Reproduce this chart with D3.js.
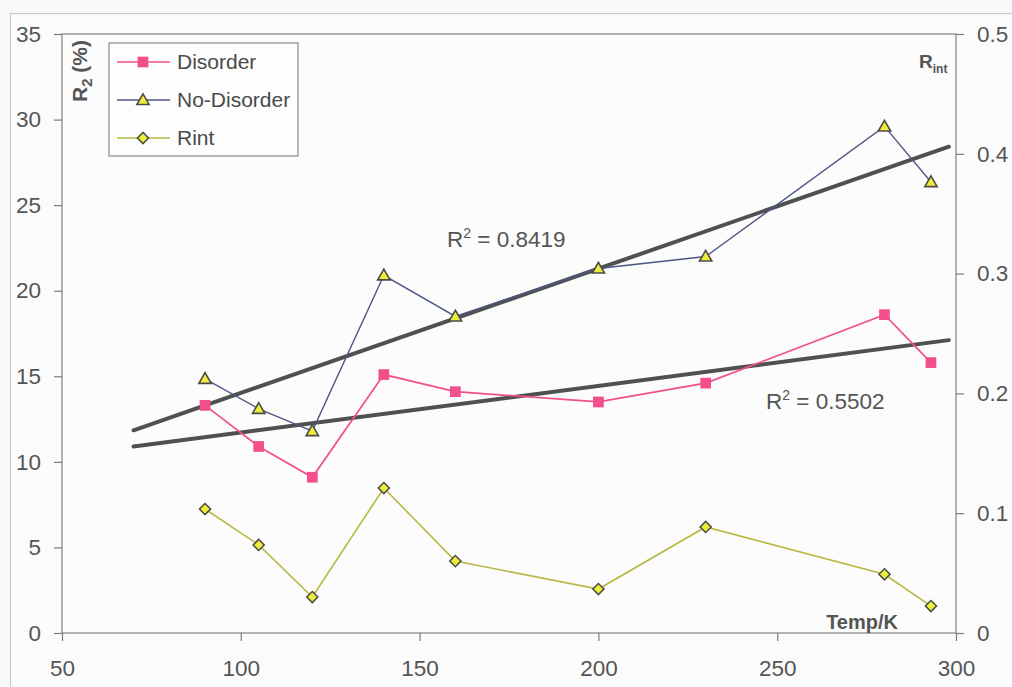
<!DOCTYPE html>
<html>
<head>
<meta charset="utf-8">
<script src="https://cdn.jsdelivr.net/npm/d3@7"></script>
<style>
  html, body { margin: 0; padding: 0; background: #f8f9f8; }
  svg { display: block; font-family: "Liberation Sans", Arial, sans-serif; }
</style>
</head>
<body>
<svg id="chart" width="1012" height="687"></svg>
<script>
// Temperature (K) of each refinement
const temps = [90, 105, 120, 140, 160, 200, 230, 280, 293];
// R2 (%) with the disorder model
const disorder = [13.3, 10.9, 9.1, 15.1, 14.1, 13.5, 14.6, 18.6, 15.8];
// R2 (%) without the disorder model
const noDisorder = [14.85, 13.1, 11.8, 20.9, 18.5, 21.3, 22.0, 29.6, 26.35];
// Rint (right axis)
const rint = [0.1035, 0.0735, 0.030, 0.121, 0.060, 0.0367, 0.0885, 0.049, 0.0225];

const xTicks = [50, 100, 150, 200, 250, 300];
const yTicks = [0, 5, 10, 15, 20, 25, 30, 35];
const yRightTicks = [0, 0.1, 0.2, 0.3, 0.4, 0.5];
const trendRange = [70, 298];
const r2Labels = ["0.8419", "0.5502"];
const seriesNames = ["Disorder", "No-Disorder", "Rint"];

const svg = d3.select("#chart");
const plotL = 62, plotR = 956, plotT = 34, plotB = 633;

const x = d3.scaleLinear().domain([50, 300]).range([plotL, plotR]);
const y = d3.scaleLinear().domain([0, 35]).range([plotB, plotT]);
const yR = d3.scaleLinear().domain([0, 0.5]).range([plotB, plotT]);

// outer chart frame
svg.append("rect").attr("x", 10.5).attr("y", 13.5).attr("width", 1010).attr("height", 700)
  .attr("fill", "#fafbfa").attr("stroke", "#c9cbc9").attr("stroke-width", 1.2);

// plot area
svg.append("rect").attr("x", plotL).attr("y", plotT).attr("width", plotR - plotL).attr("height", plotB - plotT)
  .attr("fill", "#fbfcfb").attr("stroke", "#8a8a8a").attr("stroke-width", 1.3);

const tickColor = "#7a7a7a", textColor = "#555";
function styleAxis(g) {
  g.select(".domain").remove();
  g.selectAll(".tick line").attr("stroke", tickColor).attr("stroke-width", 1.2);
  g.selectAll(".tick text").attr("fill", textColor).style("font-size", "22.5px")
    .style("font-family", "'Liberation Sans', Arial, sans-serif");
}

svg.append("g").attr("transform", `translate(0,${plotB})`)
  .call(d3.axisBottom(x).tickValues(xTicks).tickSize(8).tickPadding(19).tickFormat(d3.format("d")))
  .call(styleAxis);

svg.append("g").attr("transform", `translate(${plotL},0)`)
  .call(d3.axisLeft(y).tickValues(yTicks).tickSize(8).tickPadding(13).tickFormat(d3.format("d")))
  .call(styleAxis);

svg.append("g").attr("transform", `translate(${plotR},0)`)
  .call(d3.axisRight(yR).tickValues(yRightTicks).tickSize(8).tickPadding(13)
    .tickFormat(d => d === 0 ? "0" : d3.format(".1f")(d)))
  .call(styleAxis);

// least-squares trend lines
function fit(xs, ys) {
  const mx = d3.mean(xs), my = d3.mean(ys);
  let sxy = 0, sxx = 0;
  xs.forEach((v, i) => { sxy += (v - mx) * (ys[i] - my); sxx += (v - mx) ** 2; });
  const b = sxy / sxx;
  return t => my + b * (t - mx);
}
const trends = [fit(temps, noDisorder), fit(temps, disorder)];
trends.forEach(f => {
  svg.append("line")
    .attr("x1", x(trendRange[0])).attr("y1", y(f(trendRange[0])))
    .attr("x2", x(trendRange[1])).attr("y2", y(f(trendRange[1])))
    .attr("stroke", "#4f5150").attr("stroke-width", 4).attr("stroke-linecap", "round");
});

const colors = { pink: "#f2508c", navy: "#4e5684", olive: "#b9b843", yellow: "#eeee3a", edge: "#4a4a4a" };

const lineR = d3.line().x((d, i) => x(temps[i])).y(d => y(d));
const lineRint = d3.line().x((d, i) => x(temps[i])).y(d => yR(d));

svg.append("path").datum(rint).attr("d", lineRint).attr("fill", "none")
  .attr("stroke", colors.olive).attr("stroke-width", 1.6);
svg.append("path").datum(noDisorder).attr("d", lineR).attr("fill", "none")
  .attr("stroke", colors.navy).attr("stroke-width", 1.4);
svg.append("path").datum(disorder).attr("d", lineR).attr("fill", "none")
  .attr("stroke", colors.pink).attr("stroke-width", 1.7);

const sq = d3.symbol().type(d3.symbolSquare).size(115);
const tri = d3.symbol().type(d3.symbolTriangle).size(66);
const dia = d3.symbol().type(d3.symbolSquare).size(62);   // drawn rotated 45°

svg.append("g").selectAll("path").data(rint).join("path")
  .attr("d", dia).attr("transform", (d, i) => `translate(${x(temps[i])},${yR(d)}) rotate(45)`)
  .attr("fill", colors.yellow).attr("stroke", colors.edge).attr("stroke-width", 1.5);
svg.append("g").selectAll("path").data(noDisorder).join("path")
  .attr("d", tri).attr("transform", (d, i) => `translate(${x(temps[i])},${y(d) + 1})`)
  .attr("fill", colors.yellow).attr("stroke", colors.edge).attr("stroke-width", 1.6);
svg.append("g").selectAll("path").data(disorder).join("path")
  .attr("d", sq).attr("transform", (d, i) => `translate(${x(temps[i])},${y(d)})`)
  .attr("fill", colors.pink);

// R² annotations
function r2Text(xp, yp, val) {
  const t = svg.append("text").attr("x", xp).attr("y", yp).attr("fill", "#555").style("font-size", "22.5px");
  t.append("tspan").text("R");
  t.append("tspan").attr("dy", -9).style("font-size", "14px").text("2");
  t.append("tspan").attr("dy", 9).text(" = " + val);
}
r2Text(447, 247, r2Labels[0]);
r2Text(766, 409, r2Labels[1]);

// axis titles
const yl = svg.append("text").attr("transform", "translate(87,40) rotate(-90)")
  .attr("text-anchor", "end").attr("fill", "#555").style("font-size", "21px").style("font-weight", "bold");
yl.append("tspan").text("R");
yl.append("tspan").attr("dy", 5).style("font-size", "15px").text("2");
yl.append("tspan").attr("dy", -5).text(" (%)");

const rl = svg.append("text").attr("x", 919).attr("y", 68).attr("fill", "#555")
  .style("font-size", "19px").style("font-weight", "bold");
rl.append("tspan").text("R");
rl.append("tspan").attr("dy", 5).style("font-size", "12px").text("int");

svg.append("text").attr("x", 898).attr("y", 629).attr("text-anchor", "end").attr("fill", "#555")
  .style("font-size", "20px").style("font-weight", "bold").text("Temp/K");

// legend
const lg = svg.append("g");
lg.append("rect").attr("x", 109).attr("y", 43).attr("width", 189).attr("height", 113)
  .attr("fill", "#fcfdfc").attr("stroke", "#8a8a8a").attr("stroke-width", 1.2);
const legendRows = [
  { name: seriesNames[0], color: colors.pink, sym: sq, rot: 0, fill: colors.pink, stroke: "none" },
  { name: seriesNames[1], color: colors.navy, sym: tri, rot: 0, fill: colors.yellow, stroke: colors.edge },
  { name: seriesNames[2], color: colors.olive, sym: dia, rot: 45, fill: colors.yellow, stroke: colors.edge }
];
legendRows.forEach((r, i) => {
  const cy = 62 + i * 38;
  lg.append("line").attr("x1", 117).attr("x2", 170).attr("y1", cy).attr("y2", cy)
    .attr("stroke", r.color).attr("stroke-width", 1.5);
  lg.append("path").attr("d", r.sym)
    .attr("transform", `translate(143,${cy + (i === 1 ? 1 : 0)}) rotate(${r.rot})`)
    .attr("fill", r.fill).attr("stroke", r.stroke).attr("stroke-width", 1.5);
  lg.append("text").attr("x", 177).attr("y", cy).attr("dy", "0.35em").attr("fill", "#4a4a4a")
    .style("font-size", "21px").text(r.name);
});
</script>
</body>
</html>
